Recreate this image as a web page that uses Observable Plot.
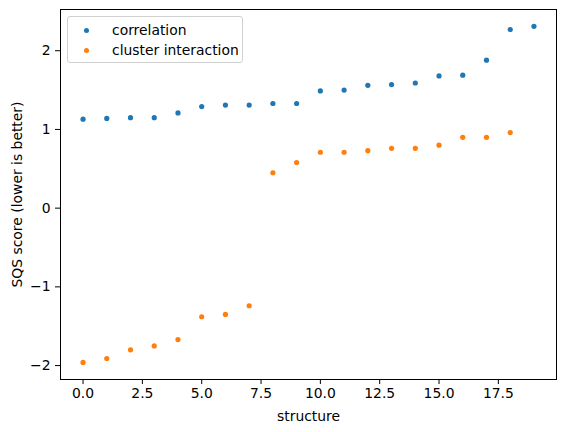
<!DOCTYPE html>
<html><head><meta charset="utf-8">
<script src="https://cdn.jsdelivr.net/npm/d3@7"></script>
<script src="https://cdn.jsdelivr.net/npm/@observablehq/plot@0.6"></script>
<style>
body{margin:0;background:#fff;}
#wrap{position:relative;width:565px;height:432px;}
.legend{position:absolute;left:67px;top:16px;width:176px;height:47px;border:1px solid #d0d0d0;border-radius:3px;background:rgba(255,255,255,0.8);font:13.9px "DejaVu Sans",sans-serif;color:#000;box-sizing:border-box}
.legend .row{position:absolute;left:0;height:20px;line-height:20px;white-space:nowrap}
.legend .dot{position:absolute;left:16px;top:7.5px;width:5px;height:5px;border-radius:50%}
.legend .txt{position:absolute;left:44px;top:0}
</style>
</head><body>
<div id="wrap"></div>
<script>
const structure = [0,1,2,3,4,5,6,7,8,9,10,11,12,13,14,15,16,17,18,19];
const correlation = [1.13,1.14,1.15,1.15,1.21,1.29,1.31,1.31,1.33,1.33,1.49,1.50,1.56,1.57,1.59,1.68,1.69,1.88,2.27,2.31];
const clusterInteraction = [-1.96,-1.91,-1.80,-1.75,-1.67,-1.38,-1.35,-1.24,0.45,0.58,0.71,0.71,0.73,0.76,0.76,0.80,0.90,0.90,0.96];
const seriesNames = ["correlation","cluster interaction"];
const seriesColors = ["#1f77b4","#ff7f0e"];
const xTicks = [0,2.5,5,7.5,10,12.5,15,17.5];
const yTicks = [-2,-1,0,1,2];

const corrData = correlation.map((v,i)=>({s:structure[i],v}));
const clusData = clusterInteraction.map((v,i)=>({s:structure[i],v}));

const chart = Plot.plot({
  width:565,height:432,
  marginLeft:60,marginRight:9,marginTop:9,marginBottom:53,
  style:{fontFamily:"DejaVu Sans, sans-serif",fontSize:"13.9px",color:"#000",background:"#fff"},
  x:{domain:[-0.95,19.95]},
  y:{domain:[-2.177,2.524]},
  marks:[
    Plot.dot(corrData,{x:"s",y:"v",r:2.6,fill:seriesColors[0],stroke:null}),
    Plot.dot(clusData,{x:"s",y:"v",r:2.6,fill:seriesColors[1],stroke:null}),
    Plot.frame({stroke:"#000",strokeWidth:1}),
    Plot.axisX({ticks:xTicks,tickFormat:d3.format(".1f"),tickSize:5,tickPadding:4,fontSize:13.9,
      label:"structure",labelAnchor:"center",labelArrow:"none",labelOffset:41}),
    Plot.axisY({ticks:yTicks,tickFormat:d=>d<0?"\u2212"+Math.abs(d):String(d),tickSize:5,tickPadding:5,fontSize:13.9,
      label:"SQS score (lower is better)",labelAnchor:"center",labelArrow:"none",labelOffset:48})
  ]
});
const wrap = document.getElementById("wrap");
wrap.appendChild(chart);
const leg = document.createElement("div");
leg.className="legend";
seriesNames.forEach((n,i)=>{
  const row=document.createElement("div");
  row.className="row";
  row.style.top=(3+i*20)+"px";
  row.style.width="100%";
  row.innerHTML=`<span class="dot" style="background:${seriesColors[i]}"></span><span class="txt">${n}</span>`;
  leg.appendChild(row);
});
wrap.appendChild(leg);
</script>
</body></html>
